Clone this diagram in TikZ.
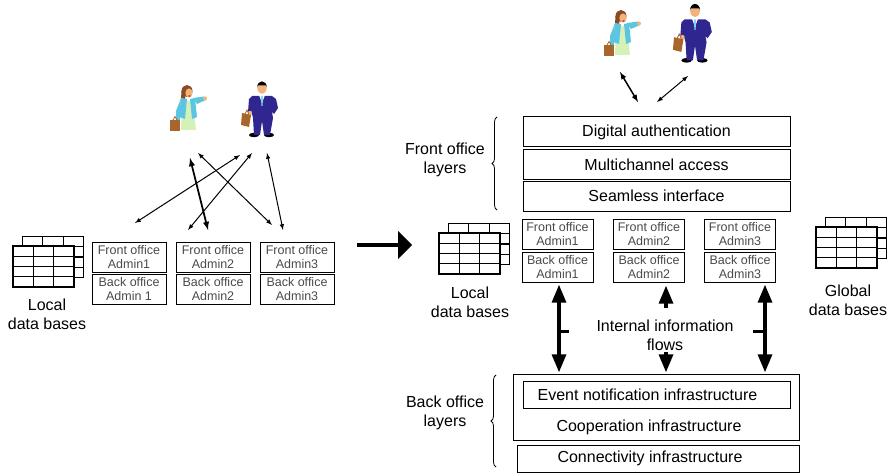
\documentclass[tikz,border=0pt]{standalone}
\usepackage{fontspec}
\setmainfont{Liberation Sans}
\usetikzlibrary{arrows}
\usetikzlibrary{decorations.pathreplacing}

\definecolor{skin}{HTML}{F2B27A}
\definecolor{suit}{HTML}{30268F}
\definecolor{jacket}{HTML}{5CC6E2}
\definecolor{dress}{HTML}{D4F2B8}
\definecolor{case}{HTML}{A8652C}
\definecolor{hairbrown}{HTML}{8A4A22}
\definecolor{officetext}{HTML}{4A4A4A}

\tikzset{
  layer/.style={draw, line width=1pt, inner sep=0pt, font=\fontsize{16}{19}\selectfont},
  office/.style={draw, line width=0.9pt, inner sep=0pt, align=center,
    text=officetext, font=\fontsize{12.5}{14}\selectfont},
  caption/.style={align=center, font=\fontsize{16}{19}\selectfont},
  flow/.style={line width=1pt, latex-latex},
  bigflow/.style={line width=3.2pt, -triangle 45},
  % table sheets of a data base
  dbase/.pic={
    \draw[line width=1.3pt, fill=white] (9.5,-9.5) rectangle (70.5,31.5);
    \draw[line width=1.3pt] (29.8,-9.5) -- (29.8,31.5) (50.2,-9.5) -- (50.2,31.5)
      (9.5,0.75) -- (70.5,0.75) (9.5,11) -- (70.5,11) (9.5,21.25) -- (70.5,21.25);
    \draw[line width=1.3pt, fill=white] (0,0) rectangle (61,41);
    \draw[line width=1.3pt] (20.3,0) -- (20.3,41) (40.7,0) -- (40.7,41)
      (0,10.25) -- (61,10.25) (0,20.5) -- (61,20.5) (0,30.75) -- (61,30.75);
  },
  % man in a suit with a briefcase
  man/.pic={
    \fill[black] (-8,47) ellipse (5 and 2.2);
    \fill[black] (7,47) ellipse (5 and 2.2);
    \fill[suit] (-10,8) -- (10,8) -- (14,11) -- (16,20) -- (12,26) -- (10,24) -- (11,30)
      -- (8,47) -- (2,47) -- (0,33) -- (-2,47) -- (-8,47) -- (-9,30) -- (-10,26)
      -- (-14,24) -- (-13,11) -- cycle;
    \fill[white] (-3,7) -- (3,7) -- (0,15) -- cycle;
    \fill[cyan!50] (-1,8) -- (1,8) -- (0.6,18) -- (-0.6,18) -- cycle;
    \fill[skin] (-12,25) circle (2.2);
    \fill[case] (-20,25) -- (-11,27) -- (-13,39) -- (-21,37) -- cycle;
    \draw[case, line width=0.8pt] (-17,26) -- (-15,22) -- (-13,26.5);
    \fill[skin] (0,0) ellipse (4.6 and 5.8);
    \fill[black] (-4.9,-0.5) arc (180:360:4.9 and 6.2) -- (4.2,-2.5) -- (-4.2,-2.5) -- cycle;
  },
  % woman in a jacket with a briefcase
  woman/.pic={
    \fill[hairbrown] (-1,-1) ellipse (5.5 and 6);
    \fill[hairbrown] (-6.5,-1) -- (-2,-1) -- (-3,8) -- (-7,7) -- cycle;
    \fill[dress] (-6,9) -- (5,9) -- (8,38) -- (-7,38) -- cycle;
    \fill[jacket] (-7,6) -- (-1,7) -- (-3,27) -- (-9,25) -- cycle;
    \fill[jacket] (2,7) -- (7,6) -- (9,25) -- (4,27) -- cycle;
    \fill[jacket] (5,6) -- (16,4.5) -- (18,8) -- (9,12) -- cycle;
    \fill[jacket] (-7,6) -- (-12,19) -- (-12,29) -- (-8,29) -- (-8,19) -- cycle;
    \fill[skin] (17,6.5) circle (2);
    \fill[skin] (-10,30) circle (2);
    \fill[case] (-18,28) rectangle (-8,39);
    \draw[case, line width=0.8pt] (-15,28) -- (-13,24.5) -- (-11,28);
    \fill[skin] (1,1) ellipse (3.6 and 4.6);
    \fill[red!70!black] (1.5,4) ellipse (1.5 and 0.6);
  },
}

\begin{document}
\begin{tikzpicture}[x=1pt, y=-1pt]
  \useasboundingbox (0,0) rectangle (890,473);

  % Before: every office on its own
  \pic at (188,92) {woman};
  \pic at (262,88) {man};
  \pic at (13,246) {dbase};
  \node[caption] (locall) at (47,314) {Local\\data bases};

  \node[office, minimum width=74pt, minimum height=30pt] (fo1) at (129,257) {Front office\\Admin1};
  \node[office, minimum width=74pt, minimum height=30pt] (bo1) at (129,289) {Back office\\Admin 1};
  \node[office, minimum width=74pt, minimum height=30pt] (fo2) at (213,257) {Front office\\Admin2};
  \node[office, minimum width=74pt, minimum height=30pt] (bo2) at (213,289) {Back office\\Admin2};
  \node[office, minimum width=74pt, minimum height=30pt] (fo3) at (297,257) {Front office\\Admin3};
  \node[office, minimum width=74pt, minimum height=30pt] (bo3) at (297,289) {Back office\\Admin3};

  % citizens talking to each office
  \coordinate (wa) at (240,155);  \coordinate (fa) at (135,223);
  \coordinate (wb) at (190,158);  \coordinate (fb) at (208,230);
  \coordinate (wc) at (252,153);  \coordinate (fc) at (188,230);
  \coordinate (wd) at (198,153);  \coordinate (fd) at (272,225);
  \coordinate (we) at (267,153);  \coordinate (fe) at (283,230);
  \draw[flow] (fa) -- (wa);
  \draw[flow, line width=1.8pt] (wb) -- (fb);
  \draw[flow] (fc) -- (wc);
  \draw[flow] (wd) -- (fd);
  \draw[flow] (we) -- (fe);

  % Step to the integrated layout
  \coordinate (stepfrom) at (357,245);
  \coordinate (stepto) at (412,245);
  \draw[line width=4pt, -triangle 90] (stepfrom) -- (stepto);

  % After: shared front office layers
  \pic at (622,17) {woman};
  \pic[scale=1.05] at (695,11) {man};

  \node[layer, minimum width=267pt, minimum height=30pt] (auth) at (656.5,132) {Digital authentication};
  \node[layer, minimum width=267pt, minimum height=29pt] (multi) at (656.5,164.5) {Multichannel access};
  \node[layer, minimum width=267pt, minimum height=30pt] (seam) at (656.5,196) {Seamless interface};

  \coordinate (wf) at (620,72);  \coordinate (af) at (638,102);
  \coordinate (wg) at (688,76);  \coordinate (ag) at (657,102);
  \draw[flow, line width=1.5pt] (wf) -- (af);
  \draw[flow] (ag) -- (wg);

  \draw[line width=0.8pt, decorate, decoration={brace, amplitude=5pt}] (497,210) -- (497,117);
  \node[caption] (frontlbl) at (445,160) {Front office\\layers};

  % offices behind the shared layers
  \node[office, minimum width=71pt, minimum height=30pt] (rfo1) at (557.5,234) {Front office\\Admin1};
  \node[office, minimum width=71pt, minimum height=30pt] (rbo1) at (557.5,267) {Back office\\Admin1};
  \node[office, minimum width=71pt, minimum height=30pt] (rfo2) at (649,234) {Front office\\Admin2};
  \node[office, minimum width=71pt, minimum height=30pt] (rbo2) at (649,267) {Back office\\Admin2};
  \node[office, minimum width=71pt, minimum height=30pt] (rfo3) at (740,234) {Front office\\Admin3};
  \node[office, minimum width=71pt, minimum height=30pt] (rbo3) at (740,267) {Back office\\Admin3};

  \pic at (439,233) {dbase};
  \node[caption] (localr) at (470,302) {Local\\data bases};
  \pic at (816,227) {dbase};
  \node[caption] (global) at (848,300) {Global\\data bases};

  % Back office layers
  \node[layer, minimum width=286pt, minimum height=66pt,
    label={[font=\fontsize{16}{19}\selectfont, yshift=-20pt, xshift=-7pt]center:Cooperation infrastructure}] (coop) at (656,407) {};
  \node[layer, minimum width=267pt, minimum height=27pt] (event) at (656.5,394.5) {\hspace*{-18pt}Event notification infrastructure};
  \node[layer, minimum width=282pt, minimum height=27pt] (conn) at (658,458.5) {\hspace*{-16pt}Connectivity infrastructure};

  \draw[line width=0.8pt, decorate, decoration={brace, amplitude=5pt}] (496,467) -- (496,375);
  \node[caption] (backlbl) at (445,413) {Back office\\layers};

  % internal information flows
  \node[caption] (flows) at (665,335) {Internal information\\flows};
  \coordinate (ia) at (559,285);  \coordinate (ib) at (559,372);  \coordinate (ic) at (559,331);
  \coordinate (ja) at (765,285);  \coordinate (jb) at (765,372);  \coordinate (jc) at (765,331);
  \coordinate (ka) at (666,308);  \coordinate (kb) at (666,286);
  \coordinate (kc) at (666,352);  \coordinate (kd) at (666,372);
  \draw[bigflow, triangle 45-triangle 45] (ia) -- (ib);
  \draw[line width=3pt] (ic) -- ++(10,0);
  \draw[bigflow, triangle 45-triangle 45] (ja) -- (jb);
  \draw[line width=3pt] (jc) -- ++(-12,0);
  \draw[bigflow] (ka) -- (kb);
  \draw[bigflow] (kc) -- (kd);
\end{tikzpicture}
\end{document}
